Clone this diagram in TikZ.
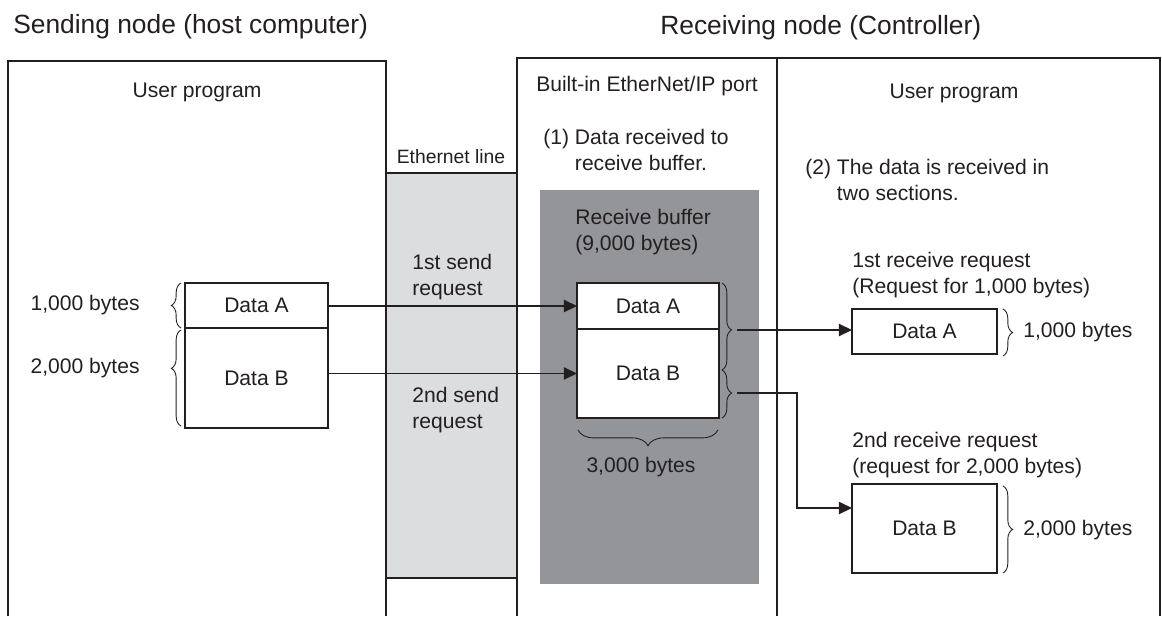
\documentclass[tikz,border=0pt]{standalone}
\usepackage{fontspec}
\setmainfont{Liberation Sans}
\usetikzlibrary{arrows.meta, positioning, calc, decorations.pathreplacing}
\definecolor{ink}{HTML}{231F20}
\definecolor{wireg}{HTML}{DCDDDE}
\definecolor{bufg}{HTML}{939598}

\begin{document}
\begin{tikzpicture}[x=0.02cm, y=-0.02cm, every node/.style={text=ink, inner sep=0pt, font=\fontsize{12}{14.7}\selectfont}, title/.style={font=\fontsize{15}{18}\selectfont, anchor=west}, note/.style={align=left, anchor=north west}, frame/.style={draw=ink, line width=0.9pt}, datab/.style={draw=ink, line width=0.8pt, fill=white, outer sep=0pt, minimum width=2.86cm}, arrow/.style={draw=ink, line width=0.8pt, -{Triangle[length=7.5pt, width=7pt]}}, brc/.style={draw=ink, line width=0.5pt, decorate, decoration={brace, amplitude=5.5pt, aspect=#1}}, brc/.default=0.5]
\useasboundingbox (0,0) rectangle (1162,616);
\fill[wireg] (386,173) rectangle (517,578);
\draw[frame] (386,173) -- (517,173) (386,578) -- (517,578);
\fill[bufg] (540,190) rectangle (759,584);
\draw[frame] (8,616) |- (386,61) -- (386,616);
\draw[frame] (517,616) |- (1160,58) -- (1160,616);
\draw[frame] (777,58) -- (777,616);

\node[title] (sendt) at (13,27) {Sending node (host computer)};
\node[title] (recvt) at (660,28) {Receiving node (Controller)};
\node (hostprog) at (197,92) {User program};
\node (port) at (647,86) {Built-in EtherNet/IP port};
\node (ctrlprog) at (954,93) {User program};
\node[font=\fontsize{11}{13}\selectfont] (wire) at (451,157) {Ethernet line};
\node[note] (step1) at (543,129) {(1) Data received to\\\phantom{(1) }receive buffer.};
\node[note] (step2) at (805,159) {(2) The data is received in\\\phantom{(2) }two sections.};
\node[note] (buftxt) at (575,209) {Receive buffer\\(9,000 bytes)};
\node[note] (send1) at (412,254) {1st send\\request};
\node[note] (send2) at (412,387) {2nd send\\request};
\node[note] (recv1) at (852,252) {1st receive request\\(Request for 1,000 bytes)};
\node[note] (recv2) at (852,432) {2nd receive request\\(request for 2,000 bytes)};

\node[datab, minimum height=0.9cm, anchor=north west] (sa) at (185,283) {Data A};
\node[datab, minimum height=2cm, below=0pt of sa] (sb) {Data B};
\node[datab, minimum width=2.84cm, minimum height=0.92cm, anchor=north west] (ra) at (577,283) {Data A};
\node[datab, minimum width=2.84cm, minimum height=1.78cm, below=0pt of ra] (rb) {Data B};
\node[datab, minimum width=2.9cm, minimum height=0.9cm, anchor=north west] (qa) at (852,309) {Data A};
\node[datab, minimum width=2.9cm, minimum height=1.78cm, anchor=north west] (qb) at (852,484) {Data B};

\draw[brc] ($(sa.south west)+(-4,0)$) -- ($(sa.north west)+(-4,0)$);
\draw[brc=0.6] ($(sb.south west)+(-4,-2)$) -- ($(sb.north west)+(-4,2)$);
\node[anchor=east] (sza) at (140,305) {1,000 bytes};
\node[anchor=east] (szb) at (140,368) {2,000 bytes};

\draw[brc=0.54] ($(ra.north east)+(3,0)$) -- ($(rb.north east)+(3,41)$);
\draw[brc=0.48] ($(rb.north east)+(3,41)$) -- ($(rb.south east)+(3,0)$);
\draw[brc, decoration={amplitude=9pt}] ($(rb.south east)+(-1,12)$) -- ($(rb.south west)+(1,12)$);
\node (total) at (641,467) {3,000 bytes};
\coordinate (tipa) at (737,330);
\coordinate (tipb) at (737,393);
\coordinate (bendb) at (797,508);

\draw[brc] ($(qa.north east)+(6,0)$) -- ($(qa.south east)+(6,2)$);
\draw[brc] ($(qb.north east)+(6,2)$) -- ($(qb.south east)+(6,0)$);
\node[anchor=west] (sqa) at (1023,332) {1,000 bytes};
\node[anchor=west] (sqb) at (1023,530) {2,000 bytes};

\draw[arrow] (sa.east |- ra.west) -- (ra.west);
\draw[arrow] (rb.west -| sb.east) -- (rb.west);
\draw[arrow] (tipa) -- (tipa -| qa.west);
\draw[arrow] (tipb) -| (bendb) -- (bendb -| qb.west);
\end{tikzpicture}
\end{document}
